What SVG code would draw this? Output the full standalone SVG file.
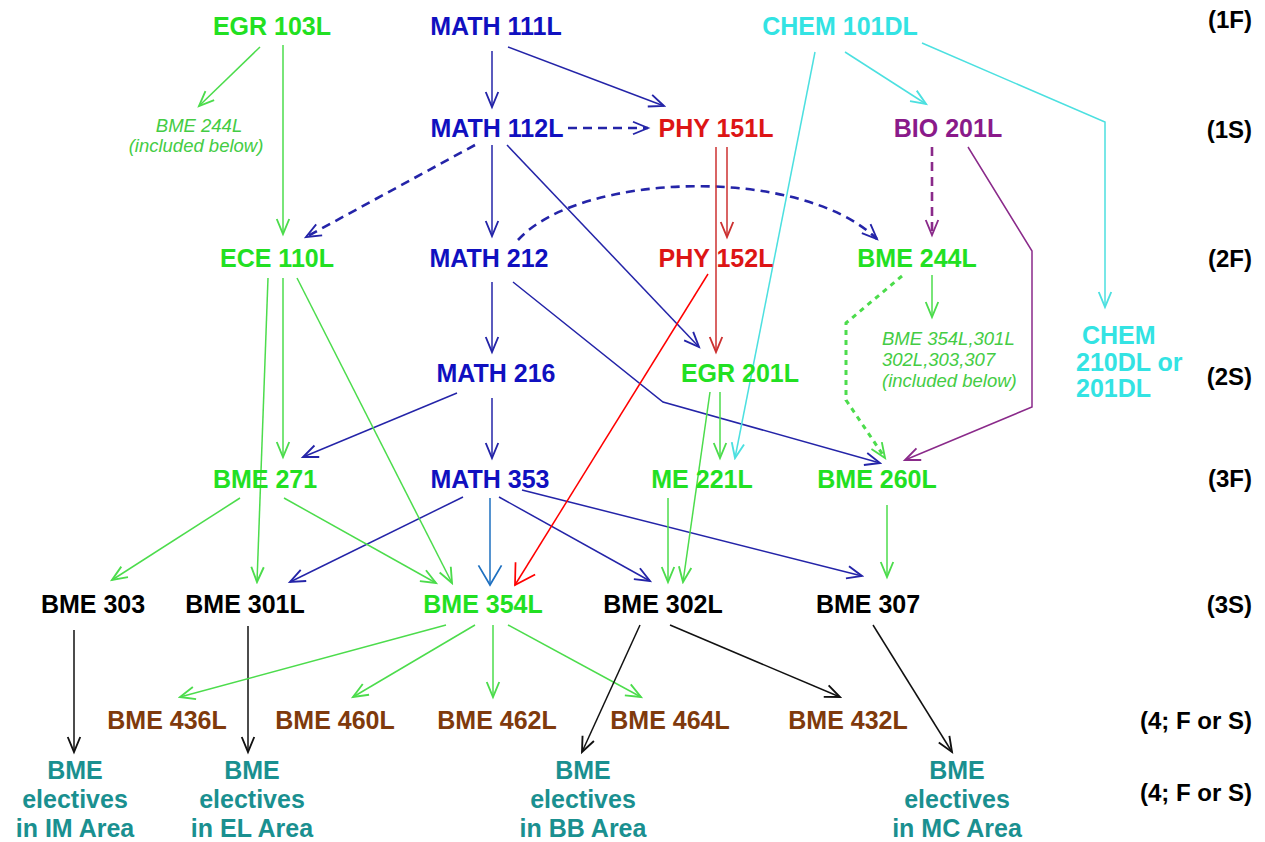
<svg xmlns="http://www.w3.org/2000/svg" width="1265" height="842" viewBox="0 0 1265 842">
<style>
text{font-family:"Liberation Sans",Arial,sans-serif;font-weight:bold;font-size:25px;text-anchor:middle}
.g{fill:#22e022}.b{fill:#1010c0}.c{fill:#33e3e3}.r{fill:#dd1515}.p{fill:#8a1a8a}.k{fill:#000}.br{fill:#7f3a0c}.t{fill:#1a9090}
.note{font-weight:normal;font-style:italic;font-size:18.5px;fill:#44cc44}
.row{font-size:24px;text-anchor:end;fill:#000}
line,polyline,path{fill:none;stroke-width:1.5}
.lg{stroke:#4cdc4c;marker-end:url(#mg)}
.lb{stroke:#2424a8;marker-end:url(#mb)}
.lr{stroke:#cc3030;marker-end:url(#mr)}
.lc{stroke:#4ce0e0;marker-end:url(#mc)}
.lp{stroke:#8a2a8a;marker-end:url(#mp)}
.lk{stroke:#111;marker-end:url(#mk)}
.dash{stroke-width:2.6;stroke-dasharray:9,6}
.dot{stroke-width:3;stroke-dasharray:5,5}
</style>
<defs>
<marker id="mg" markerUnits="userSpaceOnUse" markerWidth="20" markerHeight="20" viewBox="-14 -8 16 16" refX="0" refY="0" orient="auto"><path d="M-12,-5 L0,0 L-12,5" stroke="#4cdc4c" stroke-width="1.5" fill="none" stroke-dasharray="none"/></marker>
<marker id="mb" markerUnits="userSpaceOnUse" markerWidth="20" markerHeight="20" viewBox="-14 -8 16 16" refX="0" refY="0" orient="auto"><path d="M-12,-5 L0,0 L-12,5" stroke="#2424a8" stroke-width="1.5" fill="none" stroke-dasharray="none"/></marker>
<marker id="mr" markerUnits="userSpaceOnUse" markerWidth="20" markerHeight="20" viewBox="-14 -8 16 16" refX="0" refY="0" orient="auto"><path d="M-12,-5 L0,0 L-12,5" stroke="#cc3030" stroke-width="1.5" fill="none"/></marker>
<marker id="mc" markerUnits="userSpaceOnUse" markerWidth="20" markerHeight="20" viewBox="-14 -8 16 16" refX="0" refY="0" orient="auto"><path d="M-12,-5 L0,0 L-12,5" stroke="#4ce0e0" stroke-width="1.5" fill="none"/></marker>
<marker id="mp" markerUnits="userSpaceOnUse" markerWidth="20" markerHeight="20" viewBox="-14 -8 16 16" refX="0" refY="0" orient="auto"><path d="M-12,-5 L0,0 L-12,5" stroke="#8a2a8a" stroke-width="1.5" fill="none" stroke-dasharray="none"/></marker>
<marker id="mk" markerUnits="userSpaceOnUse" markerWidth="20" markerHeight="20" viewBox="-14 -8 16 16" refX="0" refY="0" orient="auto"><path d="M-12,-5 L0,0 L-12,5" stroke="#111" stroke-width="1.5" fill="none"/></marker>
<marker id="mbig" markerUnits="userSpaceOnUse" markerWidth="30" markerHeight="30" viewBox="-20 -13 24 26" refX="0" refY="0" orient="auto"><path d="M-17,-10 L0,0 L-17,10" stroke="#1e70c0" stroke-width="2.5" fill="none"/></marker>
<marker id="mred" markerUnits="userSpaceOnUse" markerWidth="30" markerHeight="30" viewBox="-20 -13 24 26" refX="0" refY="0" orient="auto"><path d="M-17,-10 L0,0 L-17,10" stroke="#ff0000" stroke-width="2.5" fill="none"/></marker>
</defs>
<rect width="1265" height="842" fill="#fff"/>

<g id="connectors">
<line class="lg" x1="260" y1="47" x2="199" y2="106"/>
<line class="lg" x1="283" y1="45" x2="283" y2="234"/>
<line class="lb" x1="492" y1="51" x2="492" y2="107"/>
<line class="lb" x1="508" y1="47" x2="664" y2="106"/>
<line class="lb dash" x1="568" y1="128" x2="648" y2="128"/>
<line class="lb dash" x1="475" y1="145" x2="306" y2="237"/>
<line class="lb" x1="492" y1="145" x2="492" y2="236"/>
<line class="lb" x1="507" y1="145" x2="699" y2="347"/>
<path class="lb dash" d="M518,240 C580,172 800,165 877,239"/>
<line class="lb" x1="492" y1="282" x2="492" y2="352"/>
<polyline class="lb" points="513,282 663,402 880,463"/>
<line class="lb" x1="457" y1="393" x2="303" y2="457"/>
<line class="lb" x1="492" y1="398" x2="492" y2="458"/>
<line class="lb" x1="463" y1="497" x2="290" y2="582"/>
<line x1="490" y1="498" x2="490" y2="585" stroke="#1e70c0" stroke-width="2.5" marker-end="url(#mbig)"/>
<line class="lb" x1="499" y1="497" x2="650" y2="581"/>
<line class="lb" x1="522" y1="490" x2="862" y2="576"/>
<line class="lr" x1="727" y1="147" x2="727" y2="237"/>
<line class="lr" x1="716" y1="147" x2="716" y2="352"/>
<line x1="708" y1="274" x2="515" y2="585" stroke="#ff0000" stroke-width="2.5" marker-end="url(#mred)"/>
<line class="lc" x1="845" y1="52" x2="926" y2="104"/>
<polyline class="lc" points="922,43 1105,122 1105,307"/>
<line class="lc" x1="815" y1="52" x2="735" y2="458"/>
<line class="lp dash" x1="932" y1="147" x2="932" y2="235"/>
<polyline class="lp" points="968,147 1032,251 1032,407 905,460"/>
<line class="lg" x1="932" y1="275" x2="932" y2="317"/>
<polyline class="lg dot" points="902,276 846,323 846,400 885,458"/>
<line class="lg" x1="268" y1="278" x2="257" y2="582"/>
<line class="lg" x1="283" y1="278" x2="283" y2="457"/>
<line class="lg" x1="297" y1="278" x2="452" y2="583"/>
<line class="lg" x1="720" y1="392" x2="720" y2="458"/>
<line class="lg" x1="710" y1="392" x2="683" y2="582"/>
<line class="lg" x1="668" y1="498" x2="668" y2="582"/>
<line class="lg" x1="887" y1="505" x2="887" y2="577"/>
<line class="lg" x1="240" y1="498" x2="112" y2="580"/>
<line class="lg" x1="284" y1="498" x2="436" y2="583"/>
<line class="lk" x1="74" y1="630" x2="74" y2="752"/>
<line class="lk" x1="248" y1="626" x2="248" y2="752"/>
<line class="lg" x1="446" y1="625" x2="180" y2="697"/>
<line class="lg" x1="475" y1="625" x2="353" y2="697"/>
<line class="lg" x1="493" y1="625" x2="493" y2="697"/>
<line class="lg" x1="508" y1="625" x2="641" y2="697"/>
<line class="lk" x1="640" y1="625" x2="582" y2="752"/>
<line class="lk" x1="670" y1="625" x2="840" y2="697"/>
<line class="lk" x1="873" y1="625" x2="952" y2="752"/>
</g>

<g id="EGR103L"><text class="g" x="272" y="35">EGR 103L</text></g>
<g id="MATH111L"><text class="b" x="496" y="35">MATH 111L</text></g>
<g id="CHEM101DL"><text class="c" x="840" y="35">CHEM 101DL</text></g>
<g id="note1"><text class="note" x="199" y="132">BME 244L</text><text class="note" x="196" y="152">(included below)</text></g>
<g id="MATH112L"><text class="b" x="497" y="137">MATH 112L</text></g>
<g id="PHY151L"><text class="r" x="716" y="137">PHY 151L</text></g>
<g id="BIO201L"><text class="p" x="948" y="137">BIO 201L</text></g>
<g id="ECE110L"><text class="g" x="277" y="267">ECE 110L</text></g>
<g id="MATH212"><text class="b" x="489" y="267">MATH 212</text></g>
<g id="PHY152L"><text class="r" x="716" y="267">PHY 152L</text></g>
<g id="BME244L"><text class="g" x="917" y="267">BME 244L</text></g>
<g id="CHEM210DL"><text class="c" x="1082" y="344" style="text-anchor:start">CHEM</text><text class="c" x="1076" y="371" style="text-anchor:start">210DL or</text><text class="c" x="1076" y="397" style="text-anchor:start">201DL</text></g>
<g id="note2"><text class="note" x="882" y="345" style="text-anchor:start">BME 354L,301L</text><text class="note" x="882" y="366" style="text-anchor:start">302L,303,307</text><text class="note" x="882" y="387" style="text-anchor:start">(included below)</text></g>
<g id="MATH216"><text class="b" x="496" y="382">MATH 216</text></g>
<g id="EGR201L"><text class="g" x="740" y="382">EGR 201L</text></g>
<g id="BME271"><text class="g" x="265" y="488">BME 271</text></g>
<g id="MATH353"><text class="b" x="490" y="488">MATH 353</text></g>
<g id="ME221L"><text class="g" x="702" y="488">ME 221L</text></g>
<g id="BME260L"><text class="g" x="877" y="488">BME 260L</text></g>
<g id="BME303"><text class="k" x="93" y="613">BME 303</text></g>
<g id="BME301L"><text class="k" x="245" y="613">BME 301L</text></g>
<g id="BME354L"><text class="g" x="483" y="613">BME 354L</text></g>
<g id="BME302L"><text class="k" x="663" y="613">BME 302L</text></g>
<g id="BME307"><text class="k" x="868" y="613">BME 307</text></g>
<g id="BME436L"><text class="br" x="167" y="729">BME 436L</text></g>
<g id="BME460L"><text class="br" x="335" y="729">BME 460L</text></g>
<g id="BME462L"><text class="br" x="497" y="729">BME 462L</text></g>
<g id="BME464L"><text class="br" x="670" y="729">BME 464L</text></g>
<g id="BME432L"><text class="br" x="848" y="729">BME 432L</text></g>
<g id="IM"><text class="t" x="75" y="779">BME</text><text class="t" x="75" y="808">electives</text><text class="t" x="75" y="837">in IM Area</text></g>
<g id="EL"><text class="t" x="252" y="779">BME</text><text class="t" x="252" y="808">electives</text><text class="t" x="252" y="837">in EL Area</text></g>
<g id="BB"><text class="t" x="583" y="779">BME</text><text class="t" x="583" y="808">electives</text><text class="t" x="583" y="837">in BB Area</text></g>
<g id="MC"><text class="t" x="957" y="779">BME</text><text class="t" x="957" y="808">electives</text><text class="t" x="957" y="837">in MC Area</text></g>
<g id="rows">
<text class="row" x="1252" y="28">(1F)</text>
<text class="row" x="1252" y="138">(1S)</text>
<text class="row" x="1252" y="267">(2F)</text>
<text class="row" x="1252" y="385">(2S)</text>
<text class="row" x="1252" y="487">(3F)</text>
<text class="row" x="1252" y="613">(3S)</text>
<text class="row" x="1252" y="729">(4; F or S)</text>
<text class="row" x="1252" y="801">(4; F or S)</text>
</g>
</svg>
